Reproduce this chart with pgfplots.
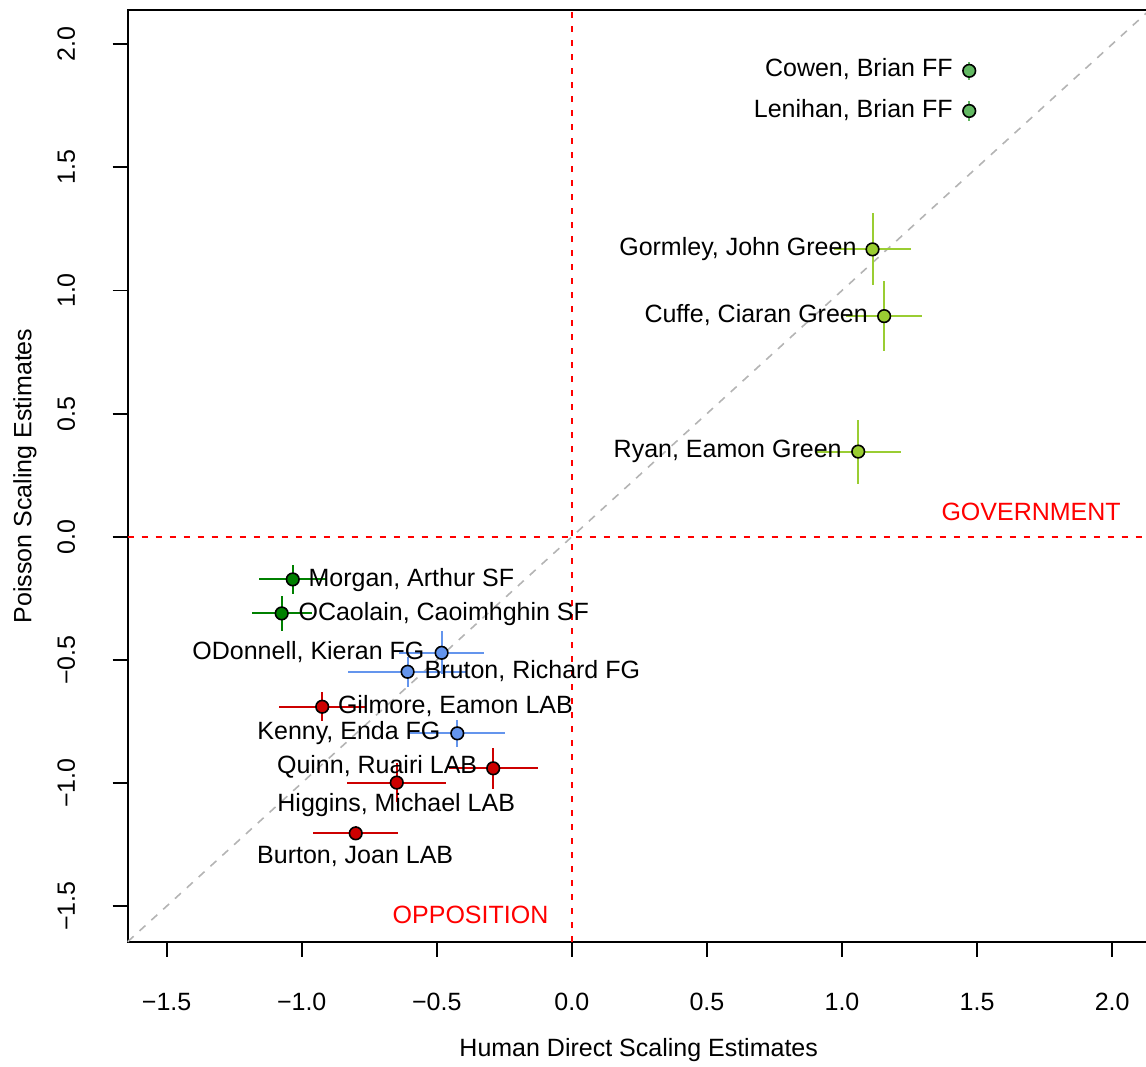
\documentclass[border=0pt]{standalone}
\usepackage{fontspec}
\setmainfont{Liberation Sans}
\usepackage{pgfplots}
\pgfplotsset{compat=1.18}

\definecolor{ffgreen}{RGB}{98,184,98}
\definecolor{greenparty}{RGB}{154,205,50}
\definecolor{sfgreen}{RGB}{0,128,0}
\definecolor{fgblue}{RGB}{100,149,237}
\definecolor{labred}{RGB}{205,0,0}
\definecolor{rgrey}{RGB}{180,180,180}

\pgfplotsset{
  party/.style={only marks, mark=*, mark size=3.15pt, color=#1,
    mark options={draw=black, fill=#1, line width=0.8pt},
    error bars/.cd, x dir=both, x explicit, y dir=both, y explicit,
    error mark=none, error bar style={line width=1pt, #1}},
}

\begin{document}
\begin{tikzpicture}[font=\fontsize{12.5}{15}\selectfont]
\useasboundingbox (-63.85pt,-62.15pt) rectangle (509.15pt,470.85pt);
\begin{axis}[
  at={(0,0)}, anchor=south west,
  width=511pt, height=465.85pt, scale only axis,
  xmin=-1.644, xmax=2.139, ymin=-1.644, ymax=2.139,
  axis line style={line width=0.9pt},
  tick style={line width=0.9pt, black},
  tick align=outside, major tick length=7.5pt,
  xtick pos=left, ytick pos=left,
  xtick={-1.5,-1,-0.5,0,0.5,1,1.5,2},
  xticklabels={−1.5,−1.0,−0.5,0.0,0.5,1.0,1.5,2.0},
  ytick={-1.5,-1,-0.5,0,0.5,1,1.5,2},
  yticklabels={−1.5,−1.0,−0.5,0.0,0.5,1.0,1.5,2.0},
  xticklabel style={anchor=base, yshift=-27pt},
  yticklabel style={xshift=-18.85pt, rotate=90, anchor=base},
  every axis x label/.style={at={(axis description cs:0.5,0)}, anchor=base, yshift=-57.5pt},
  every axis y label/.style={at={(axis description cs:0,0.5)}, xshift=-48.2pt, rotate=90, anchor=base},
  xlabel={Human Direct Scaling Estimates},
  ylabel={Poisson Scaling Estimates},
  clip=false,
]
% reference lines
\addplot[rgrey, line width=0.8pt, dash pattern=on 4pt off 4pt] coordinates {(-1.644,-1.644) (2.139,2.139)};
\addplot[red, line width=0.8pt, dash pattern=on 3pt off 4pt] coordinates {(-1.644,0) (2.139,0)};
\addplot[red, line width=0.8pt, dash pattern=on 3pt off 4pt] coordinates {(0,-1.644) (0,2.139)};

% FF
\addplot[party=ffgreen] coordinates {
  (1.471,1.892) +- (0,0.037)
  (1.471,1.729) +- (0,0.041)
};
% Green
\addplot[party=greenparty] coordinates {
  (1.113,1.167) +- (0.142,0.146)
  (1.156,0.896) +- (0.141,0.142)
  (1.060,0.346) +- (0.158,0.130)
};
% SF
\addplot[party=sfgreen] coordinates {
  (-1.033,-0.173) +- (0.124,0.058)
  (-1.074,-0.311) +- (0.111,0.071)
};
% FG
\addplot[party=fgblue] coordinates {
  (-0.482,-0.471) +- (0.157,0.088)
  (-0.608,-0.548) +- (0.220,0.061)
  (-0.424,-0.798) +- (0.176,0.054)
};
% LAB
\addplot[party=labred] coordinates {
  (-0.924,-0.690) +- (0.160,0.058)
  (-0.291,-0.940) +- (0.164,0.083)
  (-0.648,-0.998) +- (0.183,0.078)
  (-0.800,-1.204) +- (0.158,0.028)
};

\node[anchor=base east, inner sep=0] at (axis cs:1.411,1.867) {Cowen, Brian FF};
\node[anchor=base east, inner sep=0] at (axis cs:1.411,1.702) {Lenihan, Brian FF};
\node[anchor=base east, inner sep=0] at (axis cs:1.055,1.144) {Gormley, John Green};
\node[anchor=base east, inner sep=0] at (axis cs:1.097,0.872) {Cuffe, Ciaran Green};
\node[anchor=base east, inner sep=0] at (axis cs:1.000,0.321) {Ryan, Eamon Green};
\node[anchor=base west, inner sep=0] at (axis cs:-0.976,-0.200) {Morgan, Arthur SF};
\node[anchor=base west, inner sep=0] at (axis cs:-1.013,-0.338) {OCaolain, Caoimhghin SF};
\node[anchor=base east, inner sep=0] at (axis cs:-0.544,-0.498) {ODonnell, Kieran FG};
\node[anchor=base west, inner sep=0] at (axis cs:-0.546,-0.575) {Bruton, Richard FG};
\node[anchor=base west, inner sep=0] at (axis cs:-0.867,-0.717) {Gilmore, Eamon LAB};
\node[anchor=base east, inner sep=0] at (axis cs:-0.485,-0.825) {Kenny, Enda FG};
\node[anchor=base east, inner sep=0] at (axis cs:-0.349,-0.963) {Quinn, Ruairi LAB};
\node[anchor=base, inner sep=0] at (axis cs:-0.650,-1.116) {Higgins, Michael LAB};
\node[anchor=base, inner sep=0] at (axis cs:-0.802,-1.326) {Burton, Joan LAB};
\node[anchor=base, inner sep=0, text=red] at (axis cs:1.700,0.065) {GOVERNMENT};
\node[anchor=base, inner sep=0, text=red] at (axis cs:-0.375,-1.569) {OPPOSITION};
\end{axis}
\end{tikzpicture}
\end{document}
